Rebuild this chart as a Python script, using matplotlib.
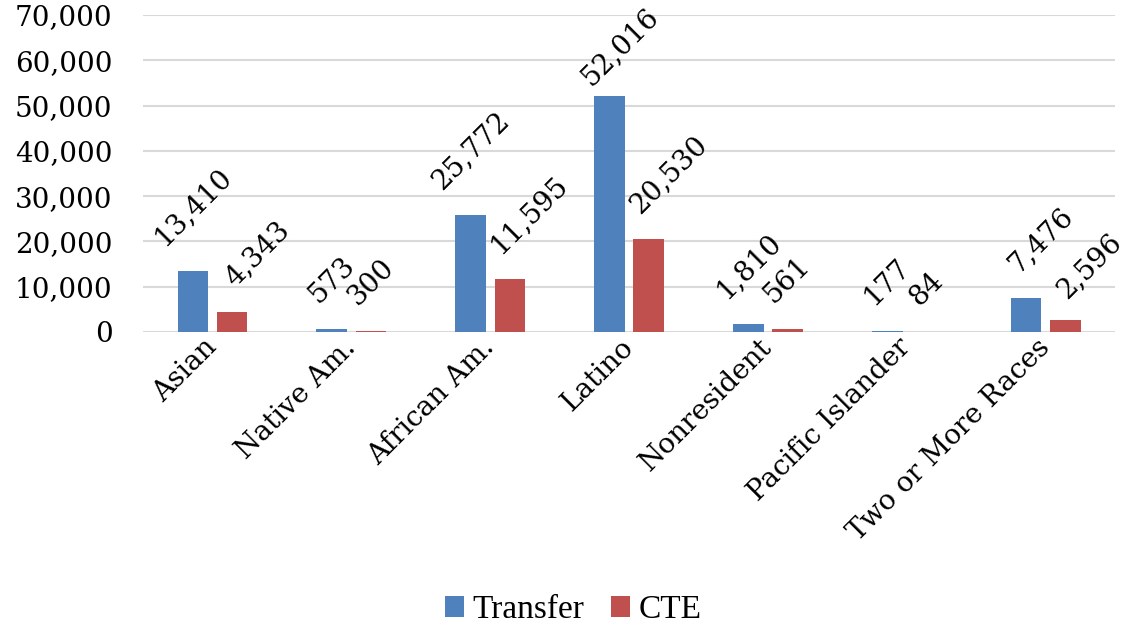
# grouped bar chart: Transfer vs CTE by race/ethnicity
import numpy as np
import matplotlib.pyplot as plt
from matplotlib.ticker import FuncFormatter

categories = ['Asian', 'Native Am.', 'African Am.', 'Latino', 'Nonresident',
              'Pacific Islander', 'Two or More Races']
transfer = [13410, 573, 25772, 52016, 1810, 177, 7476]
cte = [4343, 300, 11595, 20530, 561, 84, 2596]

# label nudges in pixels (Excel shifts some labels to avoid overlap / edges)
cte_dx = [25, 0, 19, 20, 0, 0, 24]
cte_dy = [0, 0, 0, 0, 0, 0, -4]
transfer_dx = [0, 0, 0, 10, 0, 0, 15]
transfer_dy = [0, 0, 0, -15, 0, 0, 0]

blue = '#4F81BD'
red = '#C0504D'
serif = 'DejaVu Serif'

fig = plt.figure(figsize=(11.29, 6.27), dpi=100)
ax = fig.add_axes([0.1267, 0.4705, 0.861, 0.5055])

x = np.arange(len(categories))
w = 0.22
off = 0.141
b1 = ax.bar(x - off, transfer, w, color=blue, label='Transfer', zorder=3)
b2 = ax.bar(x + off, cte, w, color=red, label='CTE', zorder=3)

for bars, vals, dxs, dys in [(b1, transfer, transfer_dx, transfer_dy),
                             (b2, cte, cte_dx, cte_dy)]:
    for r, v, dx, dy in zip(bars, vals, dxs, dys):
        ax.annotate(f'{v:,}', (r.get_x() + r.get_width() / 2, v),
                    xytext=(dx * 0.72, 15 + dy * 0.72), textcoords='offset points',
                    rotation=45, ha='center', va='bottom',
                    fontsize=20, family=serif, color='black')

ax.set_xlim(-0.5, len(categories) - 0.5)
ax.set_ylim(0, 70000)
ax.set_yticks(np.arange(0, 70001, 10000))
ax.yaxis.set_major_formatter(FuncFormatter(lambda v, p: f'{int(v):,}'))
ax.grid(axis='y', color='#d9d9d9', linewidth=1.5, zorder=0)
for s in ax.spines.values():
    s.set_visible(False)
ax.tick_params(axis='y', length=0, pad=22, labelsize=20)
ax.tick_params(axis='x', length=0, pad=8, labelsize=20)
for t in ax.get_yticklabels():
    t.set_family(serif)
ax.set_xticks(x)
ax.set_xticklabels(categories, rotation=45, ha='right', va='center',
                   rotation_mode='anchor', family=serif, fontsize=20)

leg = fig.legend(handles=[b1, b2], labels=['Transfer', 'CTE'], loc='center',
                 bbox_to_anchor=(0.508, 0.027), ncol=2, frameon=False,
                 prop={'family': 'Liberation Serif', 'size': 24},
                 handlelength=0.55, handleheight=0.55, handletextpad=0.27,
                 columnspacing=0.8)

fig.savefig('out.png', dpi=100)
